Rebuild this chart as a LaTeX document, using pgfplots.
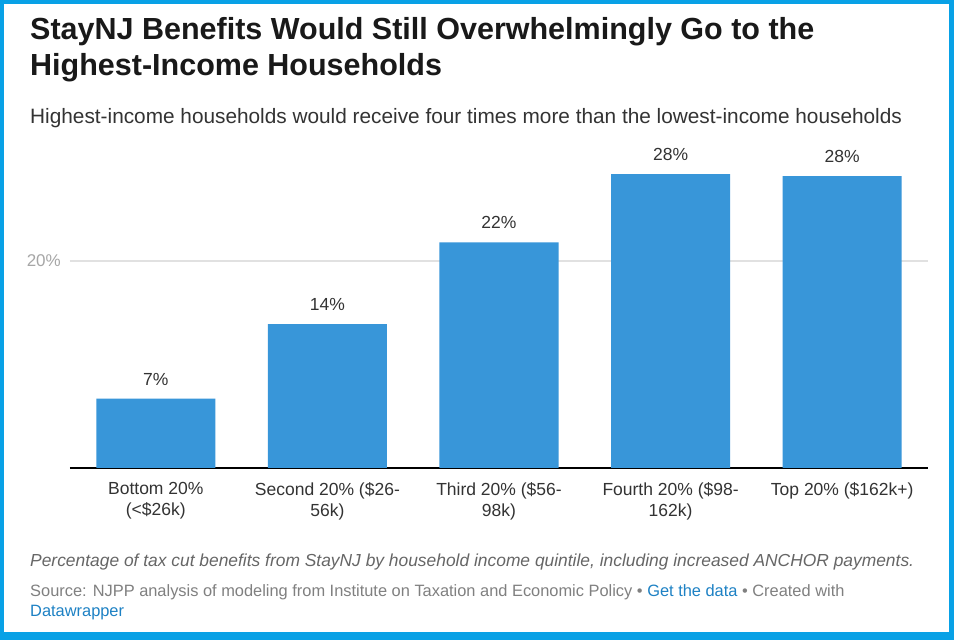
\documentclass[border=0pt]{standalone}
\usepackage{pgfplots}
\pgfplotsset{compat=1.18}
\usepackage{fontspec}
\setmainfont{Liberation Sans}
\definecolor{frameBlue}{RGB}{8,161,230}
\definecolor{barBlue}{RGB}{56,150,217}
\definecolor{linkBlue}{RGB}{29,129,196}
\definecolor{txtDark}{RGB}{51,51,51}
\definecolor{gridGray}{RGB}{225,225,225}
\newcommand{\fs}[2][0]{\fontsize{#2pt}{\ifdim#1pt=0pt #2pt\else #1pt\fi}\selectfont}
\begin{document}
\begin{tikzpicture}[x=1pt,y=1pt]
% frame
\useasboundingbox (0,0) rectangle (954,640);
\fill[frameBlue] (0,0) rectangle (954,640);
\fill[white] (4,8) rectangle (949,636);

% title and subtitle (y = 640 - image y)
\node[anchor=base west,inner sep=0,font=\fs{30.5}\bfseries,text=black!90] at (30,600) {StayNJ Benefits Would Still Overwhelmingly Go to the};
\node[anchor=base west,inner sep=0,font=\fs{30.5}\bfseries,text=black!90] at (30,564) {Highest-Income Households};
\node[anchor=base west,inner sep=0,font=\fs{20.8},text=txtDark] at (30,516) {Highest-income households would receive four times more than the lowest-income households};

\begin{axis}[
    at={(70pt,172pt)}, anchor=south west,
    scale only axis,
    width=858pt, height=310.5pt,
    xmin=-0.5, xmax=4.5,
    ymin=0, ymax=30,
    axis y line=none,
    axis x line*=bottom,
    x axis line style={line width=2pt, black, -},
    /pgf/number format/assume math mode=true,
    ytick={20},
    yticklabels={20\%},
    xtick={0,1,2,3,4},
    xticklabels={
        {Bottom 20\%\\(<\$26k)},
        {Second 20\% (\$26-\\56k)},
        {Third 20\% (\$56-\\98k)},
        {Fourth 20\% (\$98-\\162k)},
        {Top 20\% (\$162k+)}
    },
    major tick length=0pt,
    xticklabel style={font=\fs[21]{17.5}, text=txtDark, align=center, yshift=-11pt},
    clip=false,
]
% gridline at 20% with its label
\draw[gridGray, line width=1.2pt] (axis cs:-0.5,20) -- (axis cs:4.5,20);
\node[anchor=east, font=\fs{17}, text=black!35, inner sep=0] at ([xshift=-9pt]axis cs:-0.5,20) {20\%};
\addplot[
    ybar, bar width=119pt, fill=barBlue, draw=none,
    nodes near coords={\pgfmathprintnumber[fixed,precision=0]{\pgfplotspointmeta}\%},
    every node near coord/.append style={font=\fs{17.5}, text=txtDark, anchor=south, yshift=10pt},
] coordinates {
    (0,6.7) (1,13.9) (2,21.8) (3,28.4) (4,28.2)
};
\end{axis}

% notes and source
\node[anchor=base west,inner sep=0,font=\fs{17.4}\itshape,text=black!60] at (30,73) {Percentage of tax cut benefits from StayNJ by household income quintile, including increased ANCHOR payments.};
\node[anchor=base west,inner sep=0,font=\fs{16.4},text=black!50] at (30,43) {Source: NJPP analysis of modeling from Institute on Taxation and Economic Policy \textbullet\ \textcolor{linkBlue}{Get the data} \textbullet\ Created with};
\node[anchor=base west,inner sep=0,font=\fs{16.4},text=linkBlue] at (30,23) {Datawrapper};
\end{tikzpicture}
\end{document}
